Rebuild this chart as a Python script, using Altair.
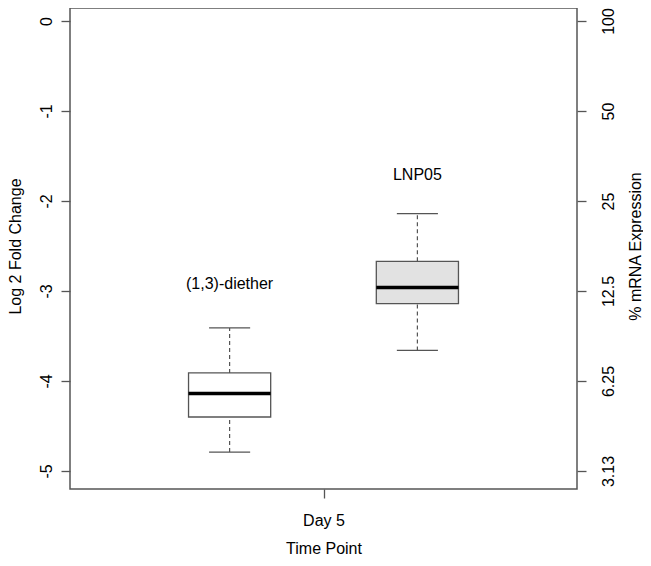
import altair as alt
import pandas as pd

# ---- data ----
groups = ["(1,3)-diether", "LNP05"]
whisker_low = [-4.79, -3.66]
q1 = [-4.40, -3.14]
medians = [-4.14, -2.96]
q3 = [-3.91, -2.67]
whisker_high = [-3.41, -2.14]
label_y = [-2.92, -1.71]
time_point = "Day 5"
left_ticks = [0, -1, -2, -3, -4, -5]
right_tick_labels = ["100", "50", "25", "12.5", "6.25", "3.13"]

# ---- build table ----
n = len(groups)
pos = [1 + (i - (n - 1) / 2) * 0.4 for i in range(n)]
box_half = 0.0875
cap_half = box_half / 2
df = pd.DataFrame({
    "group": groups,
    "pos": pos,
    "box_l": [p - box_half for p in pos],
    "box_r": [p + box_half for p in pos],
    "cap_l": [p - cap_half for p in pos],
    "cap_r": [p + cap_half for p in pos],
    "lo": whisker_low,
    "q1": q1,
    "med": medians,
    "q3": q3,
    "hi": whisker_high,
    "ly": label_y,
})

FONT = "Liberation Sans"
GRAY = "#555555"

xscale = alt.Scale(domain=[0.46, 1.54], nice=False, zero=False)
yscale = alt.Scale(domain=[-5.2, 0.1444], nice=False, zero=False)

xaxis = alt.Axis(
    values=[1], labelExpr=f"'{time_point}'", title="Time Point",
    labelPadding=14, titleBaseline="alphabetic", titleY=64,
)
yaxis_left = alt.Axis(
    values=left_ticks, labelExpr="toString(datum.value)", orient="left",
    labelAngle=270, labelAlign="center", labelBaseline="alphabetic",
    labelPadding=10, title="Log 2 Fold Change", titleAngle=270,
    titleAlign="center", titleBaseline="alphabetic", titleX=-50, titleY=238,
)
expr = "".join(
    f"datum.value == {v} ? '{lab}' : " for v, lab in zip(left_ticks, right_tick_labels)
) + "''"
yaxis_right = alt.Axis(
    values=left_ticks, labelExpr=expr, orient="right",
    labelAngle=270, labelAlign="center", labelBaseline="alphabetic",
    labelPadding=27, title="% mRNA Expression", titleAngle=270,
    titleAlign="center", titleBaseline="alphabetic", titleX=63, titleY=238,
)

base = alt.Chart(df)
X = lambda f: alt.X(f"{f}:Q", scale=xscale, axis=xaxis)
Y = lambda f: alt.Y(f"{f}:Q", scale=yscale, axis=yaxis_left)

wh_lo = base.mark_rule(color=GRAY, strokeWidth=1.2, strokeDash=[4, 3]).encode(
    x=X("pos"), y=Y("lo"), y2="q1:Q")
wh_hi = base.mark_rule(color=GRAY, strokeWidth=1.2, strokeDash=[4, 3]).encode(
    x=X("pos"), y=Y("q3"), y2="hi:Q")
cap_lo = base.mark_rule(color=GRAY, strokeWidth=1.3).encode(
    x=X("cap_l"), x2="cap_r:Q", y=Y("lo"))
cap_hi = base.mark_rule(color=GRAY, strokeWidth=1.3).encode(
    x=X("cap_l"), x2="cap_r:Q", y=Y("hi"))
boxes = base.mark_rect(stroke=GRAY, strokeWidth=1.3).encode(
    x=X("box_l"), x2="box_r:Q", y=Y("q1"), y2="q3:Q",
    fill=alt.Fill("group:N", scale=alt.Scale(domain=groups, range=["#ffffff", "#e2e2e2"]), legend=None),
)
med = base.mark_rule(color="#000000", strokeWidth=3.5).encode(
    x=X("box_l"), x2="box_r:Q", y=Y("med"))

left = alt.layer(wh_lo, wh_hi, cap_lo, cap_hi, boxes, med)

labels = base.mark_text(font=FONT, fontSize=16, color="#000000", align="center", baseline="middle").encode(
    x=X("pos"),
    y=alt.Y("ly:Q", scale=yscale, axis=yaxis_right),
    text="group:N",
)

chart = alt.layer(left, labels).resolve_scale(y="independent").properties(
    width=507, height=481,
    autosize=alt.AutoSizeParams(type="none"),
    padding={"left": 62, "top": 0, "right": 66, "bottom": 67},
).configure_view(
    stroke=GRAY, strokeWidth=1.5
).configure_axis(
    domain=False, grid=False, tickColor=GRAY, tickWidth=1.3, tickSize=9,
    labelFont=FONT, labelFontSize=16, labelColor="#000000",
    titleFont=FONT, titleFontSize=16, titleFontWeight="normal", titleColor="#000000",
)

chart.save("out.html", embed_options={"renderer": "svg", "actions": False})
